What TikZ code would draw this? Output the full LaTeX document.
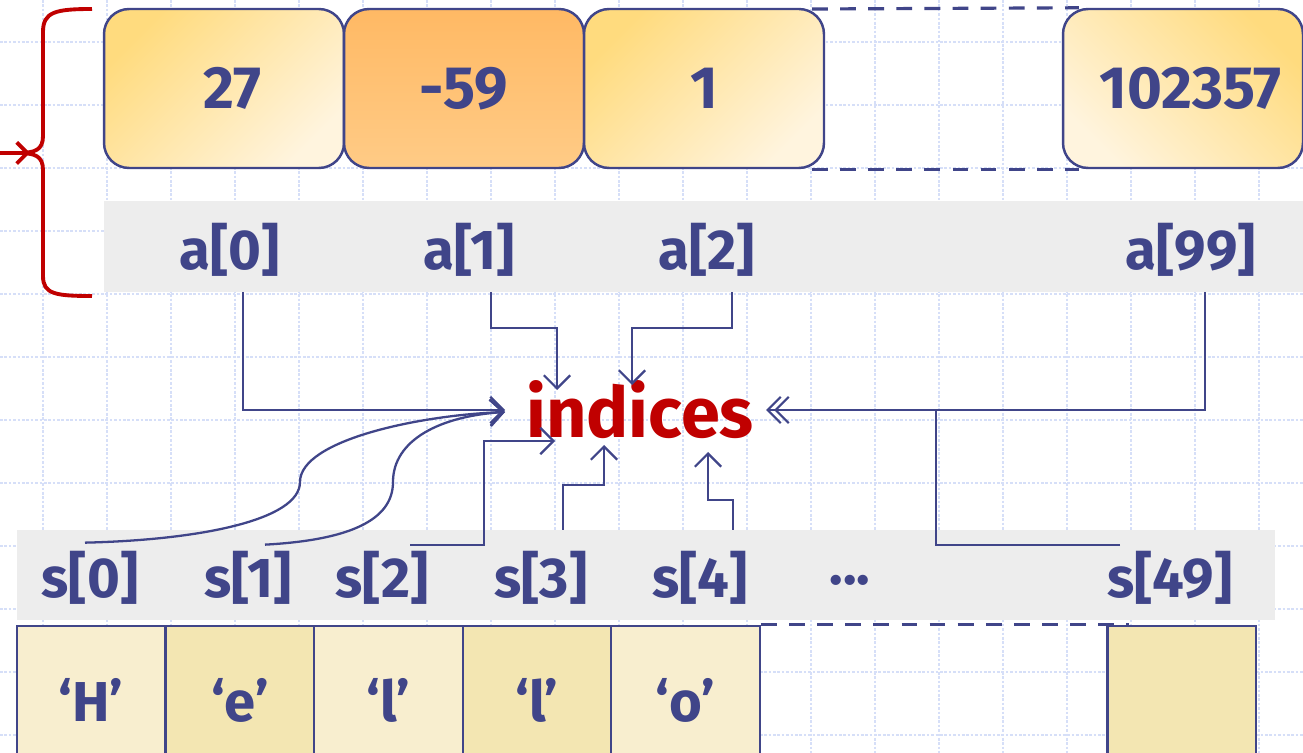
\documentclass[tikz,border=0pt]{standalone}
\usepackage{fontspec}
\setmainfont{Fira Sans}
\usetikzlibrary{calc}
\usetikzlibrary{positioning}
\usetikzlibrary{arrows.meta}
\definecolor{inkColor}{HTML}{404589}
\definecolor{braceColor}{HTML}{C00000}
\definecolor{gridColor}{HTML}{D6DFF8}
\definecolor{bandColor}{HTML}{EDEDED}
\definecolor{cellLight}{HTML}{F8EECF}
\definecolor{cellDark}{HTML}{F3E6B2}
\definecolor{valTop}{HTML}{FFDB7E}
\definecolor{valBottom}{HTML}{FFF4DE}
\definecolor{hotTop}{HTML}{FFB964}
\definecolor{hotBottom}{HTML}{FFCB86}

\begin{document}
\begin{tikzpicture}[x=0.02cm, y=-0.02cm,
		valbox/.style={draw=inkColor, line width=1.4pt, rounded corners=0.5cm, minimum width=4.8cm, minimum height=3.18cm, top color=valTop, bottom color=valBottom, shading angle=45, text=inkColor, font=\fontsize{34}{38}\selectfont\bfseries},
		idxlbl/.style={text=inkColor, font=\fontsize{32}{36}\selectfont\bfseries},
		charcell/.style={draw=inkColor, line width=1.4pt, minimum width=2.97cm, minimum height=2.96cm, fill=cellLight, text=inkColor, font=\fontsize{32}{36}\selectfont\bfseries},
		band/.style={fill=bandColor, inner sep=0pt},
		link/.style={draw=inkColor, line width=1.3pt, -{Straight Barb[length=7.5pt, width=15pt]}},
		gap/.style={draw=inkColor, line width=1.8pt, dash pattern=on 9pt off 7pt}
		]
		\clip (0,0) rectangle (1303,753);
		\fill[white] (0,0) rectangle (1303,753);

		% Grid paper
		\foreach \gx in {43,107,...,1303}
			\draw[gridColor, line width=1.3pt, dash pattern=on 1.5pt off 1pt] (\gx,0) -- (\gx,753);
		\foreach \gy in {42,105,...,753}
			\draw[gridColor, line width=1.3pt, dash pattern=on 1.5pt off 1pt] (0,\gy) -- (1303,\gy);

		% Index bands
		\node[band, minimum width=23.98cm, minimum height=1.82cm] (aband) at (703.5,246.5) {};
		\node[band, minimum width=25.16cm, minimum height=1.8cm] (sband) at (646,575) {};

		% Int array (dashed gap first, so the left boxes cover its end)
		\node[valbox, shading angle=-45] (v99) at (1183,88.5) {\hspace{0.3cm}102357};
		\coordinate (gapL) at (812,9);
		\draw[gap] (gapL) -- ($(v99.north west)+(17,0)$);
		\draw[gap] (gapL |- v99.south) -- ($(v99.south west)+(17,0)$);
		\node[valbox] (v0) at (224,88.5) {\hspace{0.35cm}27};
		\node[valbox, top color=hotTop, bottom color=hotBottom, shading angle=0] (v1) at (464,88.5) {-59};
		\node[valbox] (v2) at (704,88.5) {1};

		\node[idxlbl] (a0) at (230,250) {a[0]};
		\node[idxlbl] (a1) at (469,250) {a[1]};
		\node[idxlbl] (a2) at (707,250) {a[2]};
		\node[idxlbl] (a99) at (1191,250) {a[99]};

		% Char array
		\node[charcell] (c0) at (91,700) {`H'};
		\node[charcell, fill=cellDark] (c1) at (240,700) {`e'};
		\node[charcell] (c2) at (388.5,700) {`l'};
		\node[charcell, fill=cellDark] (c3) at (537,700) {`l'};
		\node[charcell] (c4) at (685.5,700) {`o'};
		\node[charcell, fill=cellDark] (c49) at (1181.5,700) {};
		\draw[gap] (c4.north east) -- ($(c49.north west)+(23,0)$);

		\node[idxlbl] (s0) at (90,578) {s[0]};
		\node[idxlbl] (s1) at (248,578) {s[1]};
		\node[idxlbl] (s2) at (382,578) {s[2]};
		\node[idxlbl] (s3) at (541,578) {s[3]};
		\node[idxlbl] (s4) at (700,578) {s[4]};
		\node[idxlbl] (sdots) at (850,580) {...};
		\node[idxlbl] (s49) at (1170,578) {s[49]};

		% Target
		\node[text=braceColor, font=\fontsize{40}{44}\selectfont\bfseries] (ind) at (640,410) {indices};

		% Links from a[]
		\draw[link] ($(a0 |- aband.south)+(13,0)$) |- ($(ind.center)+(-135,0)$);
		\draw[link] ($(a1 |- aband.south)+(22,0)$) -- ++(0,36) -| ($(ind.center)+(-83,-20)$);
		\draw[link] ($(a2 |- aband.south)+(25,0)$) -- ++(0,36) -| ($(ind.center)+(-8,-25)$);
		\draw[link] ($(a99 |- aband.south)+(14,0)$) |- ($(ind.center)+(126,0)$);

		% Links from s[]
		\draw[link] ($(s0 |- sband.north)+(-5,13)$) .. controls (200,540) and (300,520) .. (300,482)
			.. controls (300,440) and (420,415) .. ($(ind.center)+(-135,2)$);
		\draw[link] ($(s1 |- sband.north)+(17,15)$) .. controls (350,540) and (393,520) .. (393,482)
			.. controls (393,440) and (440,416) .. ($(ind.center)+(-135,2)$);
		\draw[link] ($(s2 |- sband.north)+(28,15)$) -- ++(74,0) |- ($(ind.center)+(-85,31)$);
		\draw[link] ($(s3 |- sband.north)+(22,0)$) -- ++(0,-45) -| ($(ind.center)+(-36,35)$);
		\draw[link] ($(s4 |- sband.north)+(33,0)$) -- ++(0,-30) -| ($(ind.center)+(68,42)$);
		\draw[link] ($(s49 |- sband.north)+(-50,15)$) -- ++(-184,0) |- ($(ind.center)+(134,0)$);

		% Brace
		\draw[braceColor, line width=2.2pt] (92,9) .. controls (55,9) and (43,12) .. (43,32) -- (43,136)
			.. controls (43,150) and (35,153) .. (18,153)
			.. controls (35,153) and (43,156) .. (43,170) -- (43,276)
			.. controls (43,294) and (55,296) .. (92,296);
		\draw[braceColor, line width=2.2pt, -{Straight Barb[length=6pt, width=12pt]}] (0,153) -- (30,153);
	\end{tikzpicture}
\end{document}
